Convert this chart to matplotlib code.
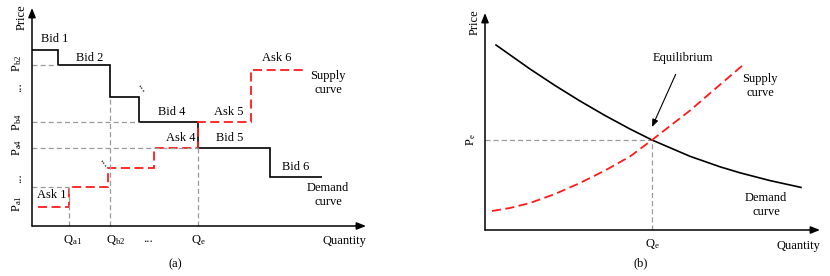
import numpy as np
import matplotlib
matplotlib.use("Agg")
import matplotlib.pyplot as plt

plt.rcParams['font.family'] = ['Liberation Serif', 'DejaVu Serif']
plt.rcParams['mathtext.fontset'] = 'custom'
plt.rcParams['mathtext.rm'] = 'Liberation Serif'
plt.rcParams['mathtext.it'] = 'Liberation Serif:italic'

# (a) discrete bids / asks (quantity edges, price per step)
bid_edges = [0, 2.6, 7.8, 10.7, 16.6, 23.8, 29.0]
bid_prices = [17.6, 16.1, 12.9, 10.4, 7.8, 4.9]
ask_edges = [0.6, 3.7, 7.6, 12.2, 16.6, 21.9, 27.3]
ask_prices = [1.9, 3.9, 5.8, 7.8, 10.4, 15.6]

# (b) continuous curves
dem_q = [1.1, 2.8, 4.5, 7.0, 9.5, 12.0, 14.5, 16.7, 20.5, 23.5, 25.5, 28.5, 31.6]
dem_p = [18.5, 17.3, 16.1, 14.45, 12.9, 11.45, 10.1, 9.0, 7.37, 6.32, 5.72, 4.94, 4.26]
sup_q = [0.7, 2.5, 4.5, 7.0, 9.5, 12.0, 14.5, 16.7, 18.5, 20.5, 23.0, 25.8]
sup_p = [1.9, 2.2, 2.7, 3.6, 4.7, 5.95, 7.35, 9.0, 10.4, 11.95, 14.1, 16.5]
eq_q, eq_p = 16.7, 9.0

RED = '#ff1a1a'
GRAY = '#9a9a9a'
FS = 9

W, H = 830, 276
fig = plt.figure(figsize=(W / 100, H / 100), dpi=100)


def make_axes(x0, y0, w, h):
    ax = fig.add_axes([x0 / W, (H - y0) / H, w / W, h / H])
    ax.set_xlim(0, w / 10)
    ax.set_ylim(0, h / 10)
    for s in ax.spines.values():
        s.set_visible(False)
    arrow = dict(arrowstyle='-|>,head_length=0.55,head_width=0.22', lw=1.1,
                 color='k', shrinkA=0, shrinkB=0)
    ax.annotate('', xy=(1, 0), xytext=(0, 0), xycoords='axes fraction', arrowprops=arrow)
    ax.annotate('', xy=(0, 1), xytext=(0, 0), xycoords='axes fraction', arrowprops=arrow)
    ax.tick_params(length=0, labelsize=FS)
    return ax


gd = dict(color=GRAY, lw=0.9, ls=(0, (4, 2.5)))

# ---------------- (a) ----------------
ax = make_axes(32, 226, 334, 218)
ax.hlines([bid_prices[1], bid_prices[3], ask_prices[3], ask_prices[1]], 0,
          [bid_edges[1], bid_edges[3], ask_edges[4], ask_edges[1]], **gd)
ax.vlines([ask_edges[1], bid_edges[2], ask_edges[4]], 0,
          [ask_prices[1], bid_prices[2], ask_prices[3]], **gd)
ax.stairs(bid_prices, bid_edges, baseline=None, color='k', lw=1.2)
ax.stairs(ask_prices, ask_edges, baseline=None, color=RED, lw=1.3, ls=(0, (5, 2.5)))

ax.set_yticks([16.3, 13.9, 10.4, 7.9, 4.8, 2.2],
              [r'P$_{\rm b2}$', '...', r'P$_{\rm b4}$', r'P$_{\rm a4}$', '...', r'P$_{\rm a1}$'],
              rotation=90, va='center')
ax.tick_params(axis='y', pad=6)
ax.set_xticks([4.0, 8.4, 11.6, 16.6],
              [r'Q$_{\rm a1}$', r'Q$_{\rm b2}$', '...', r'Q$_{\rm e}$'])
ax.tick_params(axis='x', pad=5)

labels_a = [('Bid 1', 2.3, 18.7), ('Bid 2', 5.8, 16.8), ('Bid 4', 14.0, 11.4),
            ('Ask 5', 19.7, 11.4), ('Ask 6', 24.5, 16.8), ('Supply\ncurve', 29.6, 14.3),
            ('Ask 4', 14.9, 8.8), ('Bid 5', 19.8, 8.8), ('Bid 6', 26.4, 5.9),
            ('Demand\ncurve', 29.6, 3.1), ('Ask 1', 2.0, 3.1)]
for t, x, y in labels_a:
    ax.text(x, y, t, fontsize=FS, ha='center', va='center', linespacing=1.3)
ax.text(11.0, 13.9, '...', fontsize=FS, ha='center', va='center', rotation=-55)
ax.text(7.2, 6.4, '...', fontsize=FS, ha='center', va='center', rotation=-55)
ax.text(-1.0, 20.9, 'Price', fontsize=FS, ha='center', va='center', rotation=90)
ax.text(31.2, -1.5, 'Quantity', fontsize=FS, ha='center', va='center')
ax.text(14.3, -3.8, '(a)', fontsize=FS, ha='center', va='center')

# ---------------- (b) ----------------
bx = make_axes(485, 230, 335, 217)
bx.hlines(eq_p, 0, eq_q, **gd)
bx.vlines(eq_q, 0, eq_p, **gd)
bx.plot(dem_q, dem_p, color='k', lw=1.2)
bx.plot(sup_q, sup_p, color=RED, lw=1.3, ls=(0, (5, 2.5)))
bx.set_yticks([eq_p], [r'P$_{\rm e}$'], rotation=90, va='center')
bx.tick_params(axis='y', pad=5)
bx.set_xticks([eq_q], [r'Q$_{\rm e}$'])
bx.tick_params(axis='x', pad=5)

bx.annotate('Equilibrium', xy=(eq_q, 10.3), xytext=(19.8, 17.2), fontsize=FS,
            ha='center', va='center',
            arrowprops=dict(arrowstyle='-|>,head_length=0.5,head_width=0.2', lw=0.8,
                            color='k', shrinkA=6, shrinkB=0))
bx.text(27.5, 14.4, 'Supply\ncurve', fontsize=FS, ha='center', va='center', linespacing=1.3)
bx.text(28.1, 2.5, 'Demand\ncurve', fontsize=FS, ha='center', va='center', linespacing=1.3)
bx.text(-1.0, 20.8, 'Price', fontsize=FS, ha='center', va='center', rotation=90)
bx.text(31.3, -1.6, 'Quantity', fontsize=FS, ha='center', va='center')
bx.text(15.6, -3.3, '(b)', fontsize=FS, ha='center', va='center')

fig.savefig('out.png', dpi=100, facecolor='white')
